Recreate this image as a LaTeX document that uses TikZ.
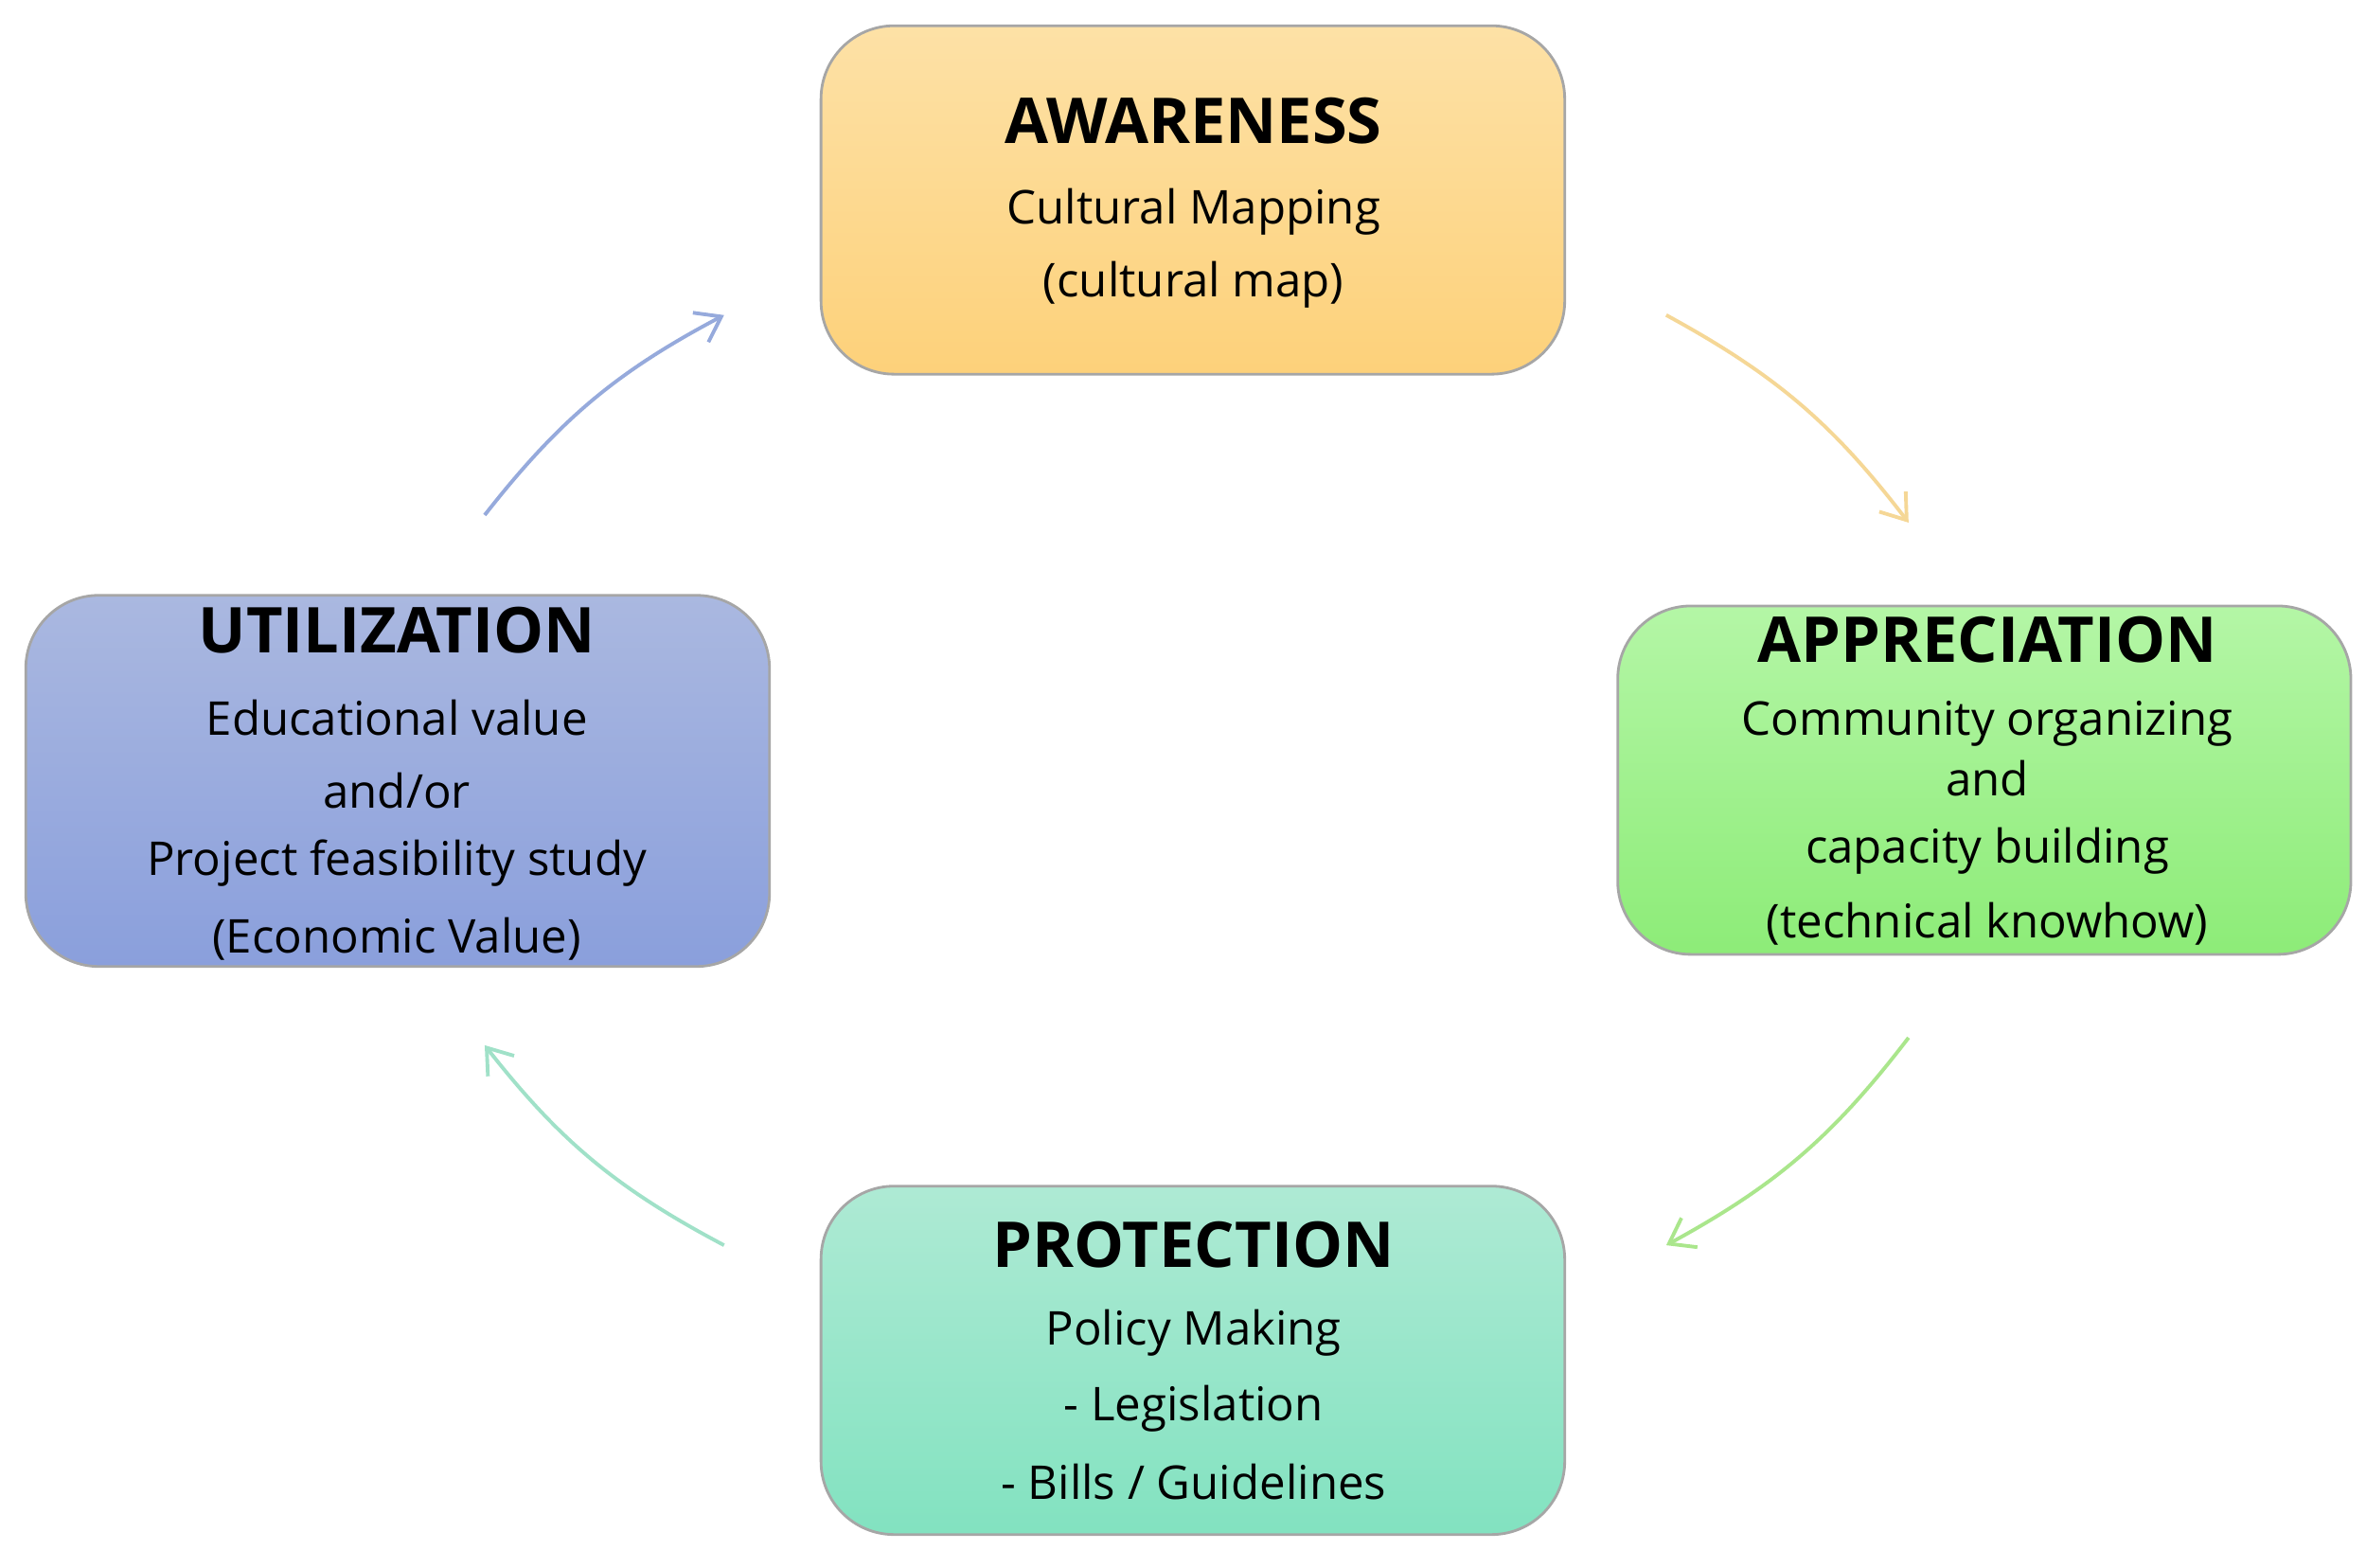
\documentclass[tikz,border=0pt]{standalone}
\usepackage{fontspec}
\setmainfont{Open Sans}
\usetikzlibrary{arrows.meta}
\begin{document}
\begin{tikzpicture}[x=0.016cm,y=-0.016cm,
  box/.style={rounded corners=22pt,draw=black!35,line width=0.8pt},
  ttl/.style={font=\fontsize{19}{20}\selectfont\bfseries,anchor=center},
  txt/.style={font=\fontsize{14}{16}\selectfont,anchor=center},
  arr/.style={line width=1.1pt,-{Straight Barb[length=7pt,width=10pt]}}]
\useasboundingbox (0,0) rectangle (1562,1035);
\definecolor{oT}{HTML}{FDE1A6}\definecolor{oB}{HTML}{FDD17A}
\definecolor{gT}{HTML}{B4F6A6}\definecolor{gB}{HTML}{8DEC78}
\definecolor{tT}{HTML}{AEEAD4}\definecolor{tB}{HTML}{82E2C0}
\definecolor{bT}{HTML}{AAB8E0}\definecolor{bB}{HTML}{8A9FDC}
\shade[box,top color=oT,bottom color=oB] (542,17) rectangle (1033,247);
\shade[box,top color=gT,bottom color=gB] (1068,400) rectangle (1552,630);
\shade[box,top color=tT,bottom color=tB] (542,783) rectangle (1033,1013);
\shade[box,top color=bT,bottom color=bB] (17,393) rectangle (508,638);
\node[ttl] (aw) at (788,80) {AWARENESS};
\node[txt] (aw1) at (788,140) {Cultural Mapping};
\node[txt] (aw2) at (788,188) {(cultural map)};
\node[ttl] (ap) at (1312,422) {APPRECIATION};
\node[txt] at (1312,478) {Community organizing};
\node[txt] at (1312,514) {and};
\node[txt] at (1312,562) {capacity building};
\node[txt] (ap4) at (1312,610) {(technical knowhow)};
\node[ttl] (pr) at (788,822) {PROTECTION};
\node[txt] at (788,880) {Policy Making};
\node[txt] at (788,930) {- Legislation};
\node[txt] at (788,978) {- Bills / Guidelines};
\node[ttl] (ut) at (262,416) {UTILIZATION};
\node[txt] at (262,474) {Educational value};
\node[txt] at (262,522) {and/or};
\node[txt] at (262,570) {Project feasibility study};
\node[txt] (ut4) at (262,620) {(Economic Value)};
\coordinate (a1) at (1100,208); \coordinate (a2) at (1260,345);
\coordinate (b1) at (1260,685); \coordinate (b2) at (1100,822);
\coordinate (c1) at (478,822); \coordinate (c2) at (320,690);
\coordinate (d1) at (320,340); \coordinate (d2) at (478,208);
\draw[arr,draw={rgb,255:red,245;green,215;blue,150}] (a1) to[bend left=12] (a2);
\draw[arr,draw={rgb,255:red,170;green,230;blue,140}] (b1) to[bend left=12] (b2);
\draw[arr,draw={rgb,255:red,160;green,225;blue,200}] (c1) to[bend left=12] (c2);
\draw[arr,draw={rgb,255:red,150;green,170;blue,220}] (d1) to[bend left=12] (d2);
\end{tikzpicture}
\end{document}
